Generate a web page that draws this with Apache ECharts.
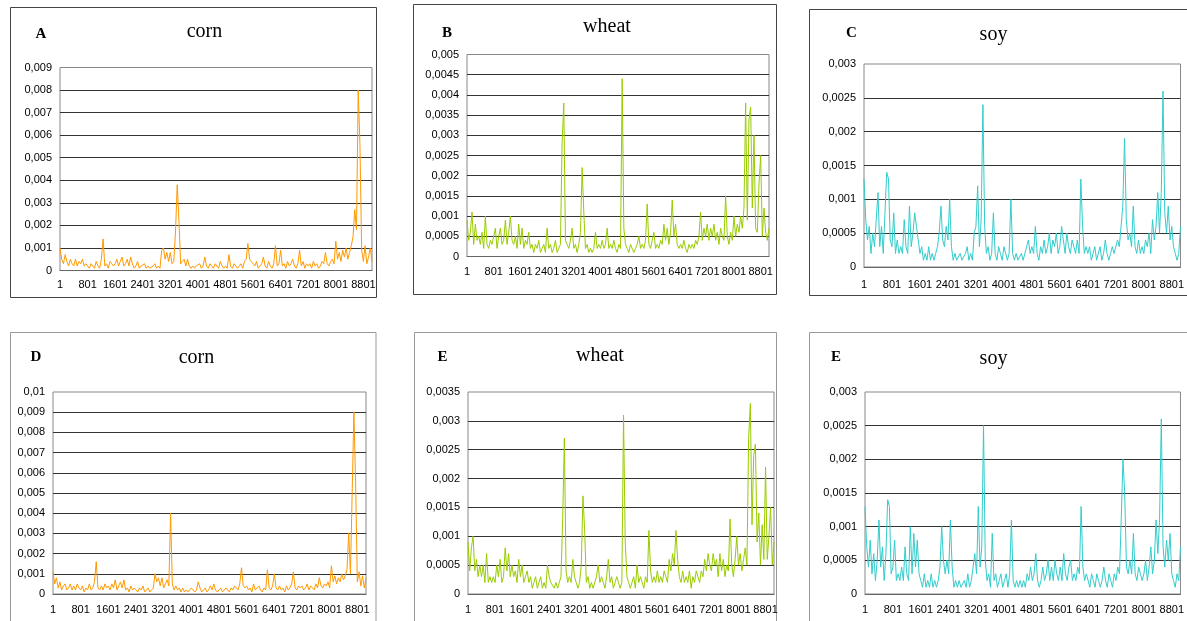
<!DOCTYPE html>
<html><head><meta charset="utf-8">
<script src="https://cdn.jsdelivr.net/npm/echarts@6/dist/echarts.min.js"></script>
<style>html,body{margin:0;padding:0;background:#fff;}#c{width:1187px;height:621px;}</style>
</head><body><div id="c"></div>
<script>
// observation index (sampled every 50 observations)
const obsIndex = [
1,51,101,151,201,251,301,351,401,451,501,551,601,651,701,751,
801,851,901,951,1001,1051,1101,1151,1201,1251,1301,1351,1401,1451,1501,1551,
1601,1651,1701,1751,1801,1851,1901,1951,2001,2051,2101,2151,2201,2251,2301,2351,
2401,2451,2501,2551,2601,2651,2701,2751,2801,2851,2901,2951,3001,3051,3101,3151,
3201,3251,3301,3351,3401,3451,3501,3551,3601,3651,3701,3751,3801,3851,3901,3951,
4001,4051,4101,4151,4201,4251,4301,4351,4401,4451,4501,4551,4601,4651,4701,4751,
4801,4851,4901,4951,5001,5051,5101,5151,5201,5251,5301,5351,5401,5451,5501,5551,
5601,5651,5701,5751,5801,5851,5901,5951,6001,6051,6101,6151,6201,6251,6301,6351,
6401,6451,6501,6551,6601,6651,6701,6751,6801,6851,6901,6951,7001,7051,7101,7151,
7201,7251,7301,7351,7401,7451,7501,7551,7601,7651,7701,7751,7801,7851,7901,7951,
8001,8051,8101,8151,8201,8251,8301,8351,8401,8451,8501,8551,8601,8651,8701,8751,
8801,8851,8901,8951,9001,9051];

// series values in units of 0.0001
const cornA = [
10,5,3,7,4,2,5,3,2,5,2,4,3,5,2,3,
2,1,3,2,1,4,2,1,5,14,2,3,1,4,3,2,
3,5,2,4,6,2,3,5,2,6,3,1,2,4,1,2,
2,3,1,2,1,1,2,3,1,2,1,9,10,5,8,4,
8,3,4,17,38,22,3,4,5,2,5,2,1,2,1,2,
2,3,1,2,6,2,1,3,2,1,3,2,1,4,2,1,
2,1,7,2,1,3,2,1,2,3,1,4,5,12,5,4,
3,2,4,1,2,3,6,2,1,4,2,1,3,11,2,3,
9,2,3,1,4,2,3,5,2,1,3,9,2,4,1,3,
2,3,1,4,2,3,1,2,4,3,8,3,2,4,5,3,
13,5,8,4,9,6,10,5,8,11,15,27,18,80,56,9,
4,11,3,6,10,4];
const wheatB = [
9,4,6,11,3,8,4,5,3,6,2,10,3,2,4,3,
3,7,2,5,7,3,4,9,3,6,10,4,3,5,2,8,
3,7,2,4,3,6,2,3,1,3,2,4,1,2,3,1,
7,2,3,1,2,4,1,2,3,28,38,4,3,2,4,7,
2,3,1,3,6,22,11,2,3,1,2,1,2,6,2,3,
2,4,2,3,7,2,3,2,4,2,1,3,2,44,7,3,
2,1,3,2,1,2,3,5,2,3,2,4,13,3,2,4,
6,2,3,2,4,3,8,4,7,3,6,14,5,8,3,2,
3,2,4,2,1,3,2,3,2,4,3,5,11,4,7,5,
8,4,7,5,8,4,6,3,7,5,4,15,5,3,6,4,
10,5,8,6,10,7,12,38,9,34,37,12,30,7,6,18,
25,5,12,6,4,7];
const soyC = [
13,7,4,6,2,5,3,7,11,3,6,2,8,14,13,4,
3,8,2,4,2,3,2,7,3,2,9,3,5,8,6,4,
2,3,1,2,1,3,1,2,1,2,3,5,9,4,3,6,
4,10,3,1,2,1,1,2,1,1,2,3,1,2,1,5,
6,12,3,7,24,6,2,3,1,2,8,2,1,3,2,1,
3,2,1,2,10,2,1,2,1,1,2,1,1,3,4,2,
3,2,6,2,1,3,2,4,2,3,5,2,4,3,5,2,
3,6,4,2,5,3,2,4,3,2,4,2,13,6,2,3,
2,3,1,2,3,1,2,3,1,2,4,2,1,2,3,2,
2,4,3,6,9,19,7,4,5,3,9,3,2,4,2,3,
2,4,3,5,2,7,4,6,11,5,11,26,8,5,9,4,
6,3,2,1,2,6];
const cornD = [
11,5,8,3,6,2,4,5,2,3,5,2,4,2,5,3,
2,4,1,3,2,5,2,3,6,16,3,2,4,2,5,3,
4,2,5,3,7,2,4,6,3,7,2,3,1,4,2,3,
2,1,3,2,4,1,2,3,1,2,3,10,6,8,4,8,
3,5,7,4,40,5,2,4,2,3,1,3,1,2,1,2,
3,2,1,2,6,3,1,2,3,1,2,4,2,5,2,1,
2,3,1,2,3,2,1,3,2,4,3,2,5,13,4,3,
4,2,3,1,5,2,3,4,2,1,3,2,12,3,2,4,
10,3,2,4,2,3,1,4,2,3,5,11,3,2,4,3,
4,2,3,5,2,4,3,2,5,3,8,4,3,5,4,6,
3,14,6,9,5,8,6,10,7,9,12,30,10,10,90,55,
6,11,4,9,3,8];
const wheatE = [
9,4,8,10,4,6,3,5,3,5,2,7,2,3,2,3,
2,5,3,6,2,3,8,4,7,3,5,3,4,2,6,3,
5,2,3,4,2,3,1,2,3,1,2,3,1,2,1,5,
3,2,2,1,2,1,2,3,13,27,4,2,3,2,6,3,
2,1,2,5,17,11,2,3,1,2,1,2,3,5,2,3,
2,1,3,6,2,3,1,2,3,2,1,2,31,9,3,2,
1,2,3,1,5,2,3,2,1,3,2,11,4,2,3,2,
4,2,3,2,4,3,2,6,4,7,5,11,6,3,2,4,
2,3,2,4,1,3,2,4,3,2,4,3,6,4,7,5,
4,7,5,6,3,7,4,6,3,5,4,13,5,3,6,10,
5,7,4,6,8,5,27,33,12,24,26,9,14,5,12,6,
22,6,10,15,5,9];
const soyF = [
13,7,4,8,3,6,2,5,11,4,7,2,6,14,13,3,
4,8,2,3,2,4,2,7,3,2,10,3,9,4,8,3,
2,1,3,1,2,1,3,1,2,1,2,4,10,5,3,5,
3,11,4,1,2,1,2,1,1,2,1,3,1,2,4,6,
3,13,4,7,25,5,2,3,1,9,2,3,1,2,3,1,
2,3,1,3,11,2,1,2,1,2,1,2,1,3,2,4,
2,3,6,2,1,2,4,2,3,5,2,4,2,5,3,2,
4,2,6,3,2,4,5,2,3,2,4,3,13,4,2,3,
2,1,3,2,1,3,2,1,2,4,2,1,3,2,1,3,
2,4,3,11,20,15,4,3,5,3,9,3,2,4,3,2,
3,5,2,4,7,3,5,11,6,11,26,7,4,8,5,9,
3,2,1,3,2,7];

const panelLetters = ['A','B','C','D','E','E'];
const panelTitles = ['corn','wheat','soy','corn','wheat','soy'];
const yMax = [0.009, 0.005, 0.003, 0.01, 0.0035, 0.003];
const yStep = [0.001, 0.0005, 0.0005, 0.001, 0.0005, 0.0005];
const seriesList = [cornA, wheatB, soyC, cornD, wheatE, soyF];

seriesList.forEach((s, i) => { if (s.length !== obsIndex.length) throw new Error('length mismatch in series ' + i + ': ' + s.length); });

// layout / style
const grids = [
  {left: 60, top: 67.5, width: 312, height: 203},
  {left: 467, top: 54.5, width: 302, height: 202},
  {left: 864, top: 64, width: 318, height: 203},
  {left: 53, top: 392, width: 313, height: 202},
  {left: 468, top: 392, width: 306, height: 202},
  {left: 865, top: 392, width: 319, height: 202}
];
const xMargin = [9, 10, 12, 10, 10, 10];
const colors = ['#FF9900', '#99CC00', '#33CCCC', '#FF9900', '#99CC00', '#33CCCC'];
const boxes = [
  {x: 10.5, y: 7.5, w: 366, h: 290, c: '#444'},
  {x: 413.5, y: 4.5, w: 363, h: 290, c: '#444'},
  {x: 809.5, y: 9.5, w: 400, h: 286, c: '#444'},
  {x: 10.5, y: 332.5, w: 365.5, h: 300, c: '#999'},
  {x: 414.5, y: 332.5, w: 362, h: 300, c: '#999'},
  {x: 809.5, y: 332.5, w: 400, h: 300, c: '#999'}
];
const letterPos = [[41, 34.5], [447, 33], [851.5, 33.5], [36, 357], [442.5, 357], [836, 357]];
const titlePos = [[204.5, 32], [607, 26.5], [993.5, 34.5], [196.5, 357.5], [600, 356], [993.5, 358.5]];

const fmt = v => v === 0 ? '0' : String(parseFloat(v.toFixed(6))).replace('.', ',');

const option = {
  animation: false,
  backgroundColor: '#fff',
  grid: grids.map(g => Object.assign({show: true, borderColor: '#888', borderWidth: 1, backgroundColor: 'transparent', containLabel: false}, g)),
  xAxis: grids.map((g, i) => ({
    type: 'category', gridIndex: i, data: obsIndex.map(String), boundaryGap: false,
    axisTick: {show: false},
    axisLine: {show: true, lineStyle: {color: '#666', width: 1}},
    axisLabel: {interval: 15, fontSize: 11, color: '#000', fontFamily: 'Liberation Sans, Arial, sans-serif', margin: xMargin[i]},
    splitLine: {show: false}
  })),
  yAxis: grids.map((g, i) => ({
    type: 'value', gridIndex: i, min: 0, max: yMax[i], interval: yStep[i],
    axisLine: {show: false}, axisTick: {show: false},
    splitLine: {show: true, showMinLine: false, showMaxLine: false, lineStyle: {color: '#333', width: 1}},
    axisLabel: {fontSize: 11, color: '#000', fontFamily: 'Liberation Sans, Arial, sans-serif', margin: 8, formatter: fmt}
  })),
  series: seriesList.map((s, i) => ({
    type: 'line', xAxisIndex: i, yAxisIndex: i,
    data: s.map(v => v / 10000),
    showSymbol: false, symbol: 'none', silent: true, sampling: null,
    lineStyle: {color: colors[i], width: 1},
    itemStyle: {color: colors[i]}
  })),
  graphic: [].concat(
    boxes.map(b => ({type: 'rect', silent: true, shape: {x: b.x, y: b.y, width: b.w, height: b.h}, style: {fill: 'none', stroke: b.c, lineWidth: 1}})),
    letterPos.map((p, i) => ({type: 'text', x: p[0], y: p[1], silent: true,
      style: {text: panelLetters[i], fontSize: 15, fontWeight: 'bold', fontFamily: 'Liberation Serif, Times New Roman, serif', fill: '#000', align: 'center', verticalAlign: 'middle'}})),
    titlePos.map((p, i) => ({type: 'text', x: p[0], y: p[1], silent: true,
      style: {text: panelTitles[i], fontSize: 20, fontFamily: 'Liberation Serif, Times New Roman, serif', fill: '#000', align: 'center', verticalAlign: 'middle'}}))
  )
};

const chart = echarts.init(document.getElementById('c'), null, {renderer: 'canvas', width: 1187, height: 621});
chart.setOption(option);
</script>
</body></html>
